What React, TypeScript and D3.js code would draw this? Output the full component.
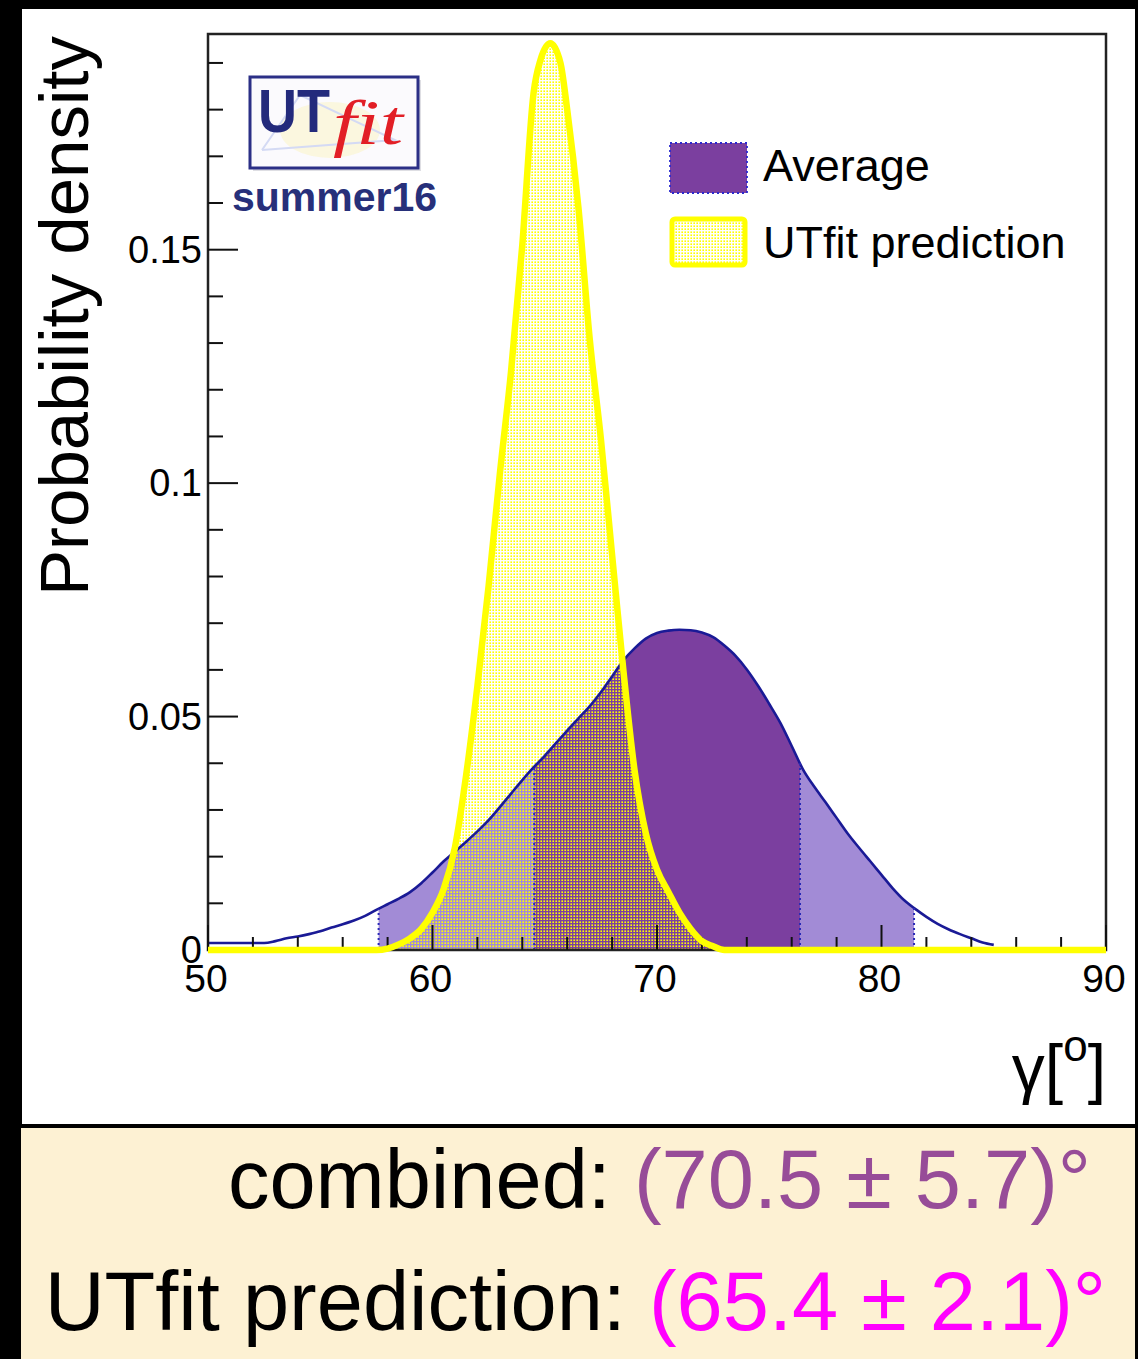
import React from "react";
import * as d3 from "d3";

// ---- data ----
const GAMMA_AVG = [
  50, 50.5, 51, 51.5, 52, 52.5, 53, 53.5, 54, 54.5, 55, 55.5, 56, 56.5, 57, 57.5,
  58, 58.5, 59, 59.5, 60, 60.5, 61, 61.5, 62, 62.5, 63, 63.5, 64, 64.5, 65, 65.5,
  66, 66.5, 67, 67.5, 68, 68.5, 69, 69.5, 70, 70.5, 71, 71.5, 72, 72.5, 73, 73.5,
  74, 74.5, 75, 75.5, 76, 76.5, 77, 77.5, 78, 78.5, 79, 79.5, 80, 80.5, 81, 81.5,
  82, 82.5, 83, 83.5, 84, 84.5, 85,
];
const DENSITY_AVG = [
  0.0015, 0.0015, 0.0015, 0.0015, 0.0015, 0.0015, 0.0019, 0.0025, 0.0029, 0.0034,
  0.004, 0.0048, 0.0055, 0.0063, 0.0073, 0.0086, 0.0098, 0.011, 0.0124, 0.0143,
  0.0166, 0.019, 0.0211, 0.0232, 0.0254, 0.0278, 0.0306, 0.0335, 0.0364, 0.0391,
  0.0416, 0.0443, 0.0470, 0.0496, 0.0522, 0.0552, 0.0586, 0.062, 0.0646, 0.0667,
  0.0679, 0.0684, 0.0686, 0.0685, 0.068, 0.067, 0.0652, 0.063, 0.0601, 0.0566,
  0.0527, 0.0486, 0.0437, 0.0387, 0.035, 0.0317, 0.0283, 0.0249, 0.0219, 0.019,
  0.0161, 0.0132, 0.0107, 0.0088, 0.0071, 0.0056, 0.0044, 0.0034, 0.0025, 0.0016,
  0.0011,
];
const GAMMA_PRED = [
  50, 57.5, 58, 58.5, 59, 59.5, 60, 60.5, 61, 61.5, 62, 62.5, 63, 63.5, 64, 64.5,
  64.8, 65.25, 65.7, 66, 66.5, 67, 67.5, 68, 68.5, 69, 69.5, 70, 70.5, 71, 71.5,
  72, 72.5, 73, 90,
];
const DENSITY_PRED = [
  0, 0, 0.0003, 0.0012, 0.0025, 0.0045, 0.008, 0.0131, 0.022, 0.0375, 0.0565, 0.078,
  0.102, 0.124, 0.151, 0.1835, 0.1905, 0.1942, 0.19, 0.18, 0.159, 0.131, 0.1095,
  0.0846, 0.06, 0.0385, 0.025, 0.0172, 0.0125, 0.008, 0.0045, 0.0019, 0.0008, 0, 0,
];
const INTERVAL_95 = [57.6, 81.45];
const INTERVAL_68 = [64.53, 76.37];

const X_MAJOR = [50, 60, 70, 80, 90];
const X_MINOR = [52, 54, 56, 58, 62, 64, 66, 68, 72, 74, 76, 78, 82, 84, 86, 88];
const Y_MAJOR = [0, 0.05, 0.1, 0.15];
const Y_MAJOR_LABELS = ["0", "0.05", "0.1", "0.15"];
const Y_MINOR = [
  0.01, 0.02, 0.03, 0.04, 0.06, 0.07, 0.08, 0.09, 0.11, 0.12, 0.13, 0.14, 0.16,
  0.17, 0.18, 0.19,
];
const LEGEND_LABELS = ["Average", "UTfit prediction"];
const RESULT_LABELS = ["combined: ", "UTfit prediction: "];
const RESULT_VALUES = ["(70.5 ± 5.7)°", "(65.4 ± 2.1)°"];

// ---- styles ----
const W = 1138;
const H = 1359;
const FONT = "'Liberation Sans', Arial, Helvetica, sans-serif";
const DARK_PURPLE = "#7b3f9f";
const LIGHT_PURPLE = "#a28bd6";
const AVG_LINE = "#1a1a96";
const YELLOW = "#ffff00";

export default function App() {
  const x = d3.scaleLinear().domain([50, 90]).range([208, 1106]);
  const y = d3.scaleLinear().domain([0, 0.1962]).range([950, 34]);

  const avgArea = d3
    .area<number>()
    .x((_, i) => x(GAMMA_AVG[i]))
    .y0(y(0))
    .y1((d) => y(d))
    .curve(d3.curveMonotoneX);
  const avgLine = d3
    .line<number>()
    .x((_, i) => x(GAMMA_AVG[i]))
    .y((d) => y(d))
    .curve(d3.curveMonotoneX);
  const predArea = d3
    .area<number>()
    .x((_, i) => x(GAMMA_PRED[i]))
    .y0(y(0))
    .y1((d) => y(d))
    .curve(d3.curveMonotoneX);
  const predLine = d3
    .line<number>()
    .x((_, i) => x(GAMMA_PRED[i]))
    .y((d) => y(d))
    .curve(d3.curveMonotoneX);

  const avgAt = d3.scaleLinear().domain(GAMMA_AVG).range(DENSITY_AVG);
  const bounds = [...INTERVAL_95, ...INTERVAL_68];

  const [bottom, top] = y.range();

  return (
    <svg
      width={W}
      height={H}
      style={{ position: "absolute", left: 0, top: 0 }}
      xmlns="http://www.w3.org/2000/svg"
    >
      <defs>
        <pattern id="ydots" width={3} height={3} patternUnits="userSpaceOnUse">
          <rect x={0.4} y={0.4} width={1.6} height={1.6} fill={YELLOW} />
        </pattern>
        <clipPath id="clip95">
          <rect x={x(INTERVAL_95[0])} y={top} width={x(INTERVAL_95[1]) - x(INTERVAL_95[0])} height={bottom - top} />
        </clipPath>
        <clipPath id="clip68">
          <rect x={x(INTERVAL_68[0])} y={top} width={x(INTERVAL_68[1]) - x(INTERVAL_68[0])} height={bottom - top} />
        </clipPath>
      </defs>

      {/* page backgrounds */}
      <rect x={0} y={0} width={W} height={H} fill="#000" />
      <rect x={22} y={9} width={1113} height={1115} fill="#fff" />
      <rect x={21} y={1128} width={1114} height={H - 1128} fill="#fdf1d3" />

      {/* average fills */}
      <path d={avgArea(DENSITY_AVG) || ""} fill={LIGHT_PURPLE} clipPath="url(#clip95)" />
      <path d={avgArea(DENSITY_AVG) || ""} fill={DARK_PURPLE} clipPath="url(#clip68)" />

      {/* prediction fill (dotted pattern) */}
      <path d={predArea(DENSITY_PRED) || ""} fill="url(#ydots)" />

      {/* average outline */}
      <path d={avgLine(DENSITY_AVG) || ""} fill="none" stroke={AVG_LINE} strokeWidth={2.6} />

      {/* interval boundaries */}
      {bounds.map((g, i) => (
        <line
          key={i}
          x1={x(g)}
          x2={x(g)}
          y1={y(0)}
          y2={y(avgAt(g))}
          stroke="#2a2ab8"
          strokeWidth={2}
          strokeDasharray="2 3"
        />
      ))}

      {/* frame */}
      <rect x={208} y={34} width={1106 - 208} height={950 - 34} fill="none" stroke="#222" strokeWidth={2.5} />

      {/* ticks */}
      {X_MAJOR.map((v) => (
        <line key={"xM" + v} x1={x(v)} x2={x(v)} y1={y(0)} y2={y(0) - 25} stroke="#111" strokeWidth={2} />
      ))}
      {X_MINOR.map((v) => (
        <line key={"xm" + v} x1={x(v)} x2={x(v)} y1={y(0)} y2={y(0) - 13} stroke="#111" strokeWidth={2} />
      ))}
      {Y_MAJOR.map((v) => (
        <line key={"yM" + v} x1={208} x2={238} y1={y(v)} y2={y(v)} stroke="#111" strokeWidth={2} />
      ))}
      {Y_MINOR.map((v) => (
        <line key={"ym" + v} x1={208} x2={223} y1={y(v)} y2={y(v)} stroke="#111" strokeWidth={2} />
      ))}

      {/* prediction outline */}
      <path d={predLine(DENSITY_PRED) || ""} fill="none" stroke={YELLOW} strokeWidth={6.5} strokeLinejoin="round" />

      {/* tick labels */}
      {X_MAJOR.map((v) => (
        <text key={"xl" + v} x={x(v) - 2} y={992} fontFamily={FONT} fontSize={39} textAnchor="middle" fill="#000">
          {v}
        </text>
      ))}
      {Y_MAJOR.map((v, i) => (
        <text
          key={"yl" + v}
          x={202}
          y={y(v) + 13}
          fontFamily={FONT}
          fontSize={38}
          textAnchor="end"
          fill="#000"
        >
          {Y_MAJOR_LABELS[i]}
        </text>
      ))}

      {/* axis titles */}
      <text
        transform="translate(88,36) rotate(-90)"
        fontFamily={FONT}
        fontSize={69}
        textAnchor="end"
        fill="#000"
      >
        Probability density
      </text>
      <text x={1106} y={1091} fontFamily={FONT} fontSize={66} textAnchor="end" fill="#000">
        <tspan>γ[</tspan>
        <tspan fontSize={44} dy={-30}>o</tspan>
        <tspan dy={30}>]</tspan>
      </text>

      {/* UTfit logo */}
      <rect x={253} y={80} width={168} height={91} fill="#c8c8d0" opacity={0.6} />
      <rect x={250} y={77} width={168} height={91} fill="#fbfafd" stroke="#2b2f86" strokeWidth={3} />
      <ellipse cx={330} cy={130} rx={50} ry={28} fill="#fbf5d2" opacity={0.7} />
      <polyline points="262,150 300,95 395,140 262,150" fill="none" stroke="#d4daf4" strokeWidth={2} />
      <text x={258} y={132} fontFamily={FONT} fontWeight="bold" fontSize={62} fill="#232a7c" textLength={72} lengthAdjust="spacingAndGlyphs">
        UT
      </text>
      <text x={333} y={144} fontFamily="'Liberation Serif', 'Times New Roman', serif" fontStyle="italic" fontSize={64} fill="#e21f26" textLength={70} lengthAdjust="spacingAndGlyphs">
        fit
      </text>
      <text x={232} y={211} fontFamily={FONT} fontWeight="bold" fontSize={40} fill="#27307a" textLength={205} lengthAdjust="spacingAndGlyphs">
        summer16
      </text>

      {/* legend */}
      <rect x={670} y={143} width={77} height={50} fill={DARK_PURPLE} stroke="#2a2ad0" strokeWidth={1.8} strokeDasharray="2 3" />
      <text x={763} y={181} fontFamily={FONT} fontSize={45} fill="#000">
        {LEGEND_LABELS[0]}
      </text>
      <rect x={672} y={219} width={73} height={46} rx={3} fill="#fff" />
      <rect x={672} y={219} width={73} height={46} rx={3} fill="url(#ydots)" stroke={YELLOW} strokeWidth={5} />
      <text x={763} y={258} fontFamily={FONT} fontSize={45} fill="#000">
        {LEGEND_LABELS[1]}
      </text>

      {/* results banner */}
      <text x={1091} y={1208} fontFamily={FONT} fontSize={83} textAnchor="end" fill="#000">
        <tspan>{RESULT_LABELS[0]}</tspan>
        <tspan fill="#974c98">{RESULT_VALUES[0]}</tspan>
      </text>
      <text x={1106} y={1330} fontFamily={FONT} fontSize={83} textAnchor="end" fill="#000">
        <tspan>{RESULT_LABELS[1]}</tspan>
        <tspan fill="#ff00ff">{RESULT_VALUES[1]}</tspan>
      </text>
    </svg>
  );
}
